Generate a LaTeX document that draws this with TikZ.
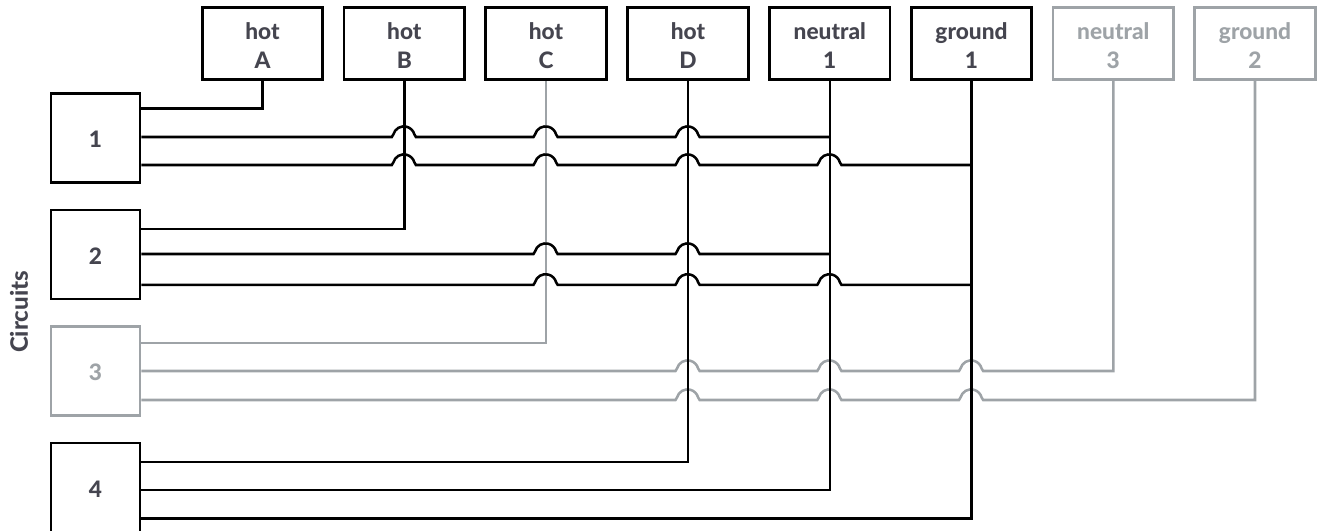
\documentclass[tikz,border=0pt]{standalone}
\usepackage{fontspec}
\setmainfont{Lato}[BoldFont={Lato Heavy}]
\usetikzlibrary{calc}
\definecolor{ink}{HTML}{45454F}
\definecolor{dim}{HTML}{9EA3A7}
\newcommand\hop[2]{-- ($(#1 |- #2)+(-12.5,0)$) -- ++(1.5,-2.5) arc[start angle=165,end angle=15,radius=8.2pt] -- ++(1.5,2.5)}
\newcommand\twolines[2]{\raisebox{-1.5pt}[\height][\depth]{#1}\\\raisebox{-1.5pt}[\height][\depth]{#2}}
\tikzset{
  every node/.style={font=\bfseries\fontsize{17pt}{21.5pt}\selectfont},
  topbox/.style={draw=black,line width=1.9pt,minimum width=120.5*0.75pt,minimum height=71.5*0.75pt,inner sep=0pt,align=center,text=ink,fill=white},
  sidebox/.style={draw=black,line width=1.9pt,minimum width=89*0.75pt,minimum height=89*0.75pt,inner sep=0pt,text=ink,fill=white,execute at begin node={\rule{0pt}{15pt}}},
  dimbox/.style={draw=dim,text=dim},
  wire/.style={draw=black,line width=1.9pt,line join=miter},
  dimwire/.style={draw=dim,line width=1.9pt,line join=miter},
}
\begin{document}
\begin{tikzpicture}[x=0.75pt,y=-0.75pt]
\useasboundingbox (0,0) rectangle (1318,531);
\clip (0,0) rectangle (1318,531);
\node[topbox] (hotA) at (262.5,43.5) {\twolines{hot}{A}};
\node[topbox] (hotB) at (404.3,43.5) {\twolines{hot}{B}};
\node[topbox] (hotC) at (546,43.5) {\twolines{hot}{C}};
\node[topbox] (hotD) at (688,43.5) {\twolines{hot}{D}};
\node[topbox] (neuO) at (829.8,43.5) {\twolines{neutral}{1}};
\node[topbox] (gndO) at (971.5,43.5) {\twolines{ground}{1}};
\node[topbox,dimbox] (neuT) at (1113.3,43.5) {\twolines{neutral}{3}};
\node[topbox,dimbox] (gndT) at (1255,43.5) {\twolines{ground}{2}};
\node[sidebox] (c1) at (95.5,138) {1};
\node[sidebox] (c2) at (95.5,254.5) {2};
\node[sidebox,dimbox] (c3) at (95.5,371) {3};
\node[sidebox] (c4) at (95.5,487.5) {4};
\node[rotate=90,text=ink,font=\bfseries\fontsize{18pt}{22pt}\selectfont] (cap) at (19,312) {Circuits};
% pins on the circuit boxes
\coordinate (c1a) at ($(c1.east)+(0,-29.7)$);
\coordinate (c1b) at ($(c1.east)+(0,-1)$);
\coordinate (c1c) at ($(c1.east)+(0,27)$);
\coordinate (c2a) at ($(c2.east)+(0,-25.5)$);
\coordinate (c2b) at ($(c2.east)+(0,-0.5)$);
\coordinate (c2c) at ($(c2.east)+(0,30.3)$);
\coordinate (c3a) at ($(c3.east)+(0,-28)$);
\coordinate (c3b) at ($(c3.east)+(0,0)$);
\coordinate (c3c) at ($(c3.east)+(0,29)$);
\coordinate (c4a) at ($(c4.east)+(0,-25.5)$);
\coordinate (c4b) at ($(c4.east)+(0,2.5)$);
\coordinate (c4c) at ($(c4.east)+(0,30.8)$);
% dim horizontal wires
\draw[dimwire] (c3b) \hop{hotD}{c3b} \hop{neuO}{c3b} \hop{gndO}{c3b} -- (neuT |- c3b) -- (neuT.south);
\draw[dimwire] (c3c) \hop{hotD}{c3c} \hop{neuO}{c3c} \hop{gndO}{c3c} -- (gndT |- c3c) -- (gndT.south);
\draw[dimwire] (c3a) -- (hotC |- c3a) -- (hotC.south);
% black wires
\draw[wire] (c1a) -- (hotA |- c1a) -- (hotA.south);
\draw[wire] (c1b) \hop{hotB}{c1b} \hop{hotC}{c1b} \hop{hotD}{c1b} -- (neuO |- c1b);
\draw[wire] (c1c) \hop{hotB}{c1c} \hop{hotC}{c1c} \hop{hotD}{c1c} \hop{neuO}{c1c} -- (gndO |- c1c);
\draw[wire] (c2a) -- (hotB |- c2a) -- (hotB.south);
\draw[wire] (c2b) \hop{hotC}{c2b} \hop{hotD}{c2b} -- (neuO |- c2b);
\draw[wire] (c2c) \hop{hotC}{c2c} \hop{hotD}{c2c} \hop{neuO}{c2c} -- (gndO |- c2c);
\draw[wire] (c4a) -- (hotD |- c4a) -- (hotD.south);
\draw[wire] (c4b) -- (neuO |- c4b) -- (neuO.south);
\draw[wire] (c4c) -- (gndO |- c4c) -- (gndO.south);
\end{tikzpicture}
\end{document}
